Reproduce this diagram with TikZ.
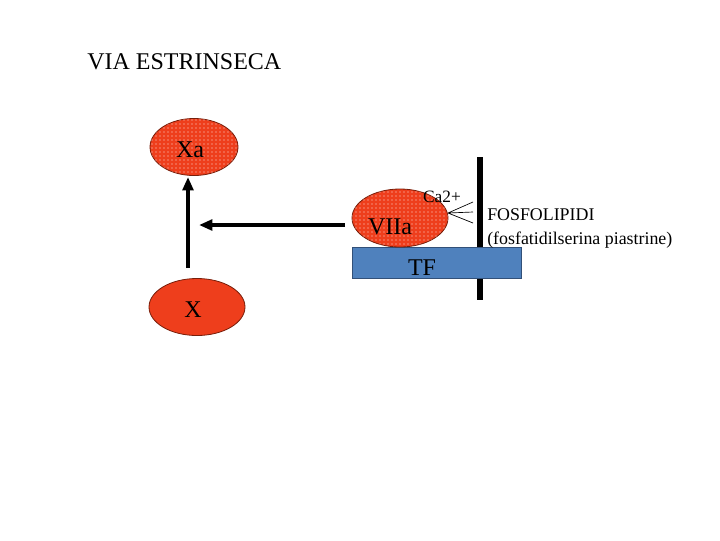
\documentclass[tikz,border=0pt]{standalone}
\usepackage{fontspec}
\setmainfont{Liberation Serif}
\usetikzlibrary{patterns,arrows.meta,shapes.geometric}
\definecolor{ellred}{RGB}{238,62,28}
\definecolor{elledge}{RGB}{120,30,10}
\definecolor{tfblue}{RGB}{79,129,189}
\definecolor{tfedge}{RGB}{50,80,120}
\tikzset{
  x=0.75pt,y=-0.75pt,
  enz/.style={ellipse, draw=elledge, line width=0.6pt, fill=ellred, inner sep=0pt},
  dotted enz/.style={enz, postaction={pattern=dots, pattern color=white!85!ellred}},
  thickarrow/.style={line width=3pt, -{Triangle[length=10pt,width=8pt]}},
  lbl/.style={font=\fontsize{18}{21}\selectfont, inner sep=0pt},
  small/.style={font=\fontsize{13.4}{16}\selectfont, inner sep=0pt, anchor=west},
}
\begin{document}
\begin{tikzpicture}
\useasboundingbox (0,0) rectangle (720,540);
\node[lbl, anchor=west] (title) at (87,62) {VIA ESTRINSECA};
% membrane bar
\fill (477,157) rectangle (483,300);
% TF
\node[draw=tfedge, fill=tfblue, minimum width=169*0.75pt, minimum height=31*0.75pt, inner sep=0pt, anchor=north west] (tf) at (352,247) {};
\node[lbl] (tflabel) at (422,268) {TF};
% ellipses
\node[dotted enz, minimum width=88*0.75pt, minimum height=57*0.75pt] (xa) at (194,147) {};
\node[lbl] (xalabel) at (190,150) {Xa};
\node[enz, minimum width=96*0.75pt, minimum height=57*0.75pt] (x) at (197,307) {};
\node[lbl] (xlabel) at (193,310) {X};
\node[dotted enz, minimum width=96*0.75pt, minimum height=58*0.75pt] (viia) at (400,218) {};
\node[lbl] (viialabel) at (390,227) {VIIa};
% Ca2+
\node[font=\fontsize{13}{15}\selectfont, inner sep=0pt] (ca) at (442,197) {Ca2+};
\coordinate (cs) at (448,213);
\coordinate (c1) at (473,202);
\coordinate (c2) at (473,212);
\coordinate (c3) at (473,223);
\draw[line width=0.5pt] (cs) -- (c1) (cs) -- (c2) (cs) -- (c3);
% phospholipids
\node[small] (fos) at (487,215) {FOSFOLIPIDI};
\node[small] (fos2) at (487,240) {(fosfatidilserina piastrine)};
% arrows
\coordinate (upstart) at (188,268);
\coordinate (upend) at (188,177);
\draw[thickarrow] (upstart) -- (upend);
\coordinate (lstart) at (345,225);
\coordinate (lend) at (199,225);
\draw[thickarrow] (lstart) -- (lend);
\end{tikzpicture}
\end{document}
